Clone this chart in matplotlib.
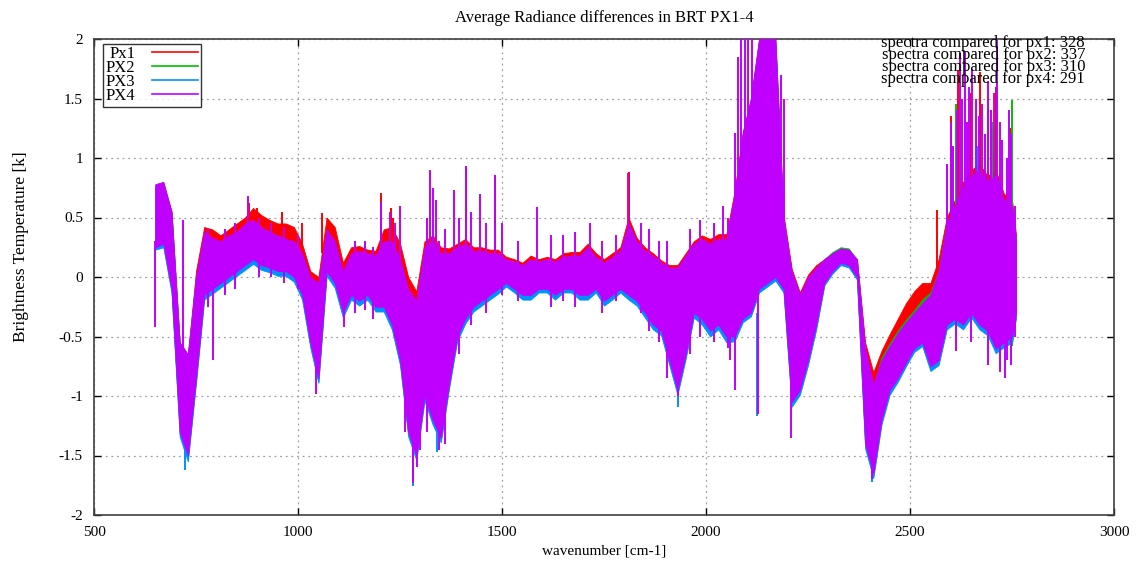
import matplotlib
matplotlib.use("Agg")
import matplotlib.pyplot as plt
from matplotlib.lines import Line2D
import numpy as np

plt.rcParams['font.family'] = ['Liberation Serif', 'DejaVu Serif']

# ---------------- data ----------------
wavenumber = list(range(650, 2751, 20)) + [2760]

px1_hi = [0.75,0.78,0.55,-0.55,-0.65,0.05,0.42,0.40,0.35,0.40,
          0.45,0.50,0.58,0.52,0.48,0.45,0.45,0.42,0.28,0.05,
          0.00,0.50,0.42,0.12,0.25,0.26,0.23,0.22,0.40,0.42,
          0.28,0.00,-0.12,0.30,0.35,0.25,0.24,0.28,0.32,0.25,
          0.25,0.23,0.23,0.17,0.15,0.12,0.18,0.15,0.17,0.15,
          0.20,0.21,0.21,0.28,0.20,0.15,0.20,0.25,0.50,0.33,
          0.25,0.20,0.14,0.10,0.10,0.20,0.30,0.35,0.32,0.36,
          0.36,0.72,1.22,1.50,2.00,2.00,2.00,0.52,0.07,-0.13,
          0.02,0.10,0.15,0.20,0.22,0.22,0.15,-0.55,-0.80,-0.62,
          -0.48,-0.35,-0.22,-0.12,-0.05,-0.05,0.15,0.50,0.65,0.80,
          0.90,0.95,0.85,0.90,0.70,0.65,0.35]
px1_lo = [0.25,0.30,-0.05,-1.25,-1.45,-0.80,-0.05,0.00,0.10,0.12,
          0.20,0.25,0.30,0.25,0.22,0.20,0.18,0.12,-0.05,-0.45,
          -0.75,0.15,0.05,-0.25,-0.10,-0.15,-0.10,-0.20,-0.20,-0.35,
          -0.62,-1.20,-1.40,-0.92,-1.12,-1.28,-0.85,-0.45,-0.30,-0.20,
          -0.16,-0.12,-0.08,-0.03,-0.08,-0.12,-0.12,-0.08,-0.08,-0.12,
          -0.08,-0.08,-0.12,-0.12,-0.08,-0.17,-0.12,-0.08,-0.12,-0.17,
          -0.27,-0.37,-0.42,-0.65,-0.90,-0.60,-0.27,-0.32,-0.42,-0.36,
          -0.46,-0.45,-0.32,-0.27,-0.07,-0.02,0.03,-0.07,-1.00,-0.92,
          -0.67,-0.37,-0.03,0.07,0.12,0.10,0.01,-1.35,-1.60,-1.12,
          -0.88,-0.78,-0.66,-0.55,-0.50,-0.68,-0.62,-0.35,-0.30,-0.35,
          -0.25,-0.35,-0.40,-0.52,-0.50,-0.45,-0.25]

px2_hi = [0.77,0.79,0.54,-0.56,-0.66,-0.02,0.36,0.31,0.28,0.33,
          0.36,0.43,0.46,0.40,0.36,0.33,0.30,0.28,0.18,-0.02,
          -0.07,0.38,0.28,0.03,0.18,0.20,0.18,0.16,0.28,0.28,
          0.13,-0.12,-0.22,0.23,0.28,0.18,0.18,0.23,0.26,0.20,
          0.20,0.18,0.18,0.14,0.12,0.09,0.14,0.12,0.14,0.12,
          0.16,0.17,0.17,0.24,0.16,0.11,0.16,0.21,0.44,0.29,
          0.21,0.17,0.11,0.07,0.07,0.17,0.27,0.31,0.27,0.31,
          0.31,0.68,1.18,1.48,1.98,1.98,1.98,0.48,0.04,-0.16,
          -0.01,0.07,0.15,0.21,0.25,0.24,0.14,-0.62,-0.92,-0.68,
          -0.56,-0.45,-0.36,-0.28,-0.19,-0.13,0.05,0.45,0.60,0.75,
          0.85,0.90,0.80,0.85,0.65,0.62,0.30]
px2_lo = [0.24,0.26,-0.12,-1.32,-1.53,-0.87,-0.17,-0.12,-0.07,-0.02,
          0.03,0.08,0.13,0.08,0.06,0.03,0.03,-0.02,-0.17,-0.57,
          -0.88,0.03,-0.07,-0.32,-0.17,-0.22,-0.17,-0.27,-0.27,-0.42,
          -0.72,-1.32,-1.52,-1.02,-1.22,-1.37,-0.92,-0.52,-0.37,-0.27,
          -0.22,-0.17,-0.12,-0.07,-0.12,-0.17,-0.17,-0.12,-0.12,-0.17,
          -0.12,-0.12,-0.17,-0.17,-0.12,-0.22,-0.17,-0.12,-0.17,-0.22,
          -0.32,-0.42,-0.47,-0.72,-0.97,-0.67,-0.32,-0.37,-0.47,-0.42,
          -0.52,-0.52,-0.37,-0.32,-0.12,-0.07,-0.02,-0.12,-1.07,-0.97,
          -0.72,-0.42,-0.06,0.04,0.11,0.09,-0.02,-1.42,-1.67,-1.22,
          -0.97,-0.87,-0.74,-0.62,-0.57,-0.77,-0.72,-0.42,-0.37,-0.42,
          -0.32,-0.42,-0.47,-0.62,-0.57,-0.56,-0.32]

px3_hi = [0.75,0.77,0.52,-0.58,-0.68,-0.04,0.34,0.29,0.26,0.31,
          0.34,0.40,0.43,0.38,0.34,0.31,0.28,0.26,0.16,-0.04,
          -0.09,0.36,0.26,0.01,0.16,0.18,0.16,0.14,0.26,0.26,
          0.11,-0.14,-0.24,0.21,0.26,0.16,0.16,0.21,0.24,0.18,
          0.18,0.16,0.16,0.12,0.10,0.07,0.12,0.10,0.12,0.10,
          0.14,0.15,0.15,0.22,0.14,0.09,0.14,0.19,0.42,0.27,
          0.19,0.15,0.09,0.05,0.05,0.15,0.25,0.29,0.25,0.29,
          0.29,0.66,1.16,1.46,1.96,1.96,1.96,0.46,0.02,-0.18,
          -0.03,0.05,0.13,0.20,0.23,0.22,0.12,-0.64,-0.94,-0.72,
          -0.60,-0.49,-0.40,-0.32,-0.24,-0.17,0.03,0.42,0.57,0.72,
          0.82,0.87,0.77,0.82,0.62,0.57,0.27]
px3_lo = [0.23,0.25,-0.13,-1.34,-1.55,-0.89,-0.19,-0.14,-0.09,-0.04,
          0.01,0.06,0.11,0.06,0.04,0.01,0.01,-0.04,-0.19,-0.59,
          -0.89,0.01,-0.09,-0.34,-0.19,-0.24,-0.19,-0.29,-0.29,-0.44,
          -0.74,-1.34,-1.54,-1.04,-1.24,-1.39,-0.94,-0.54,-0.39,-0.29,
          -0.24,-0.19,-0.14,-0.08,-0.13,-0.19,-0.19,-0.13,-0.13,-0.19,
          -0.13,-0.13,-0.19,-0.19,-0.13,-0.24,-0.19,-0.13,-0.19,-0.24,
          -0.34,-0.44,-0.49,-0.74,-0.99,-0.69,-0.34,-0.40,-0.50,-0.44,
          -0.55,-0.54,-0.38,-0.33,-0.13,-0.08,-0.03,-0.13,-1.09,-0.99,
          -0.74,-0.44,-0.07,0.03,0.10,0.08,-0.02,-1.44,-1.69,-1.24,
          -0.99,-0.88,-0.75,-0.63,-0.58,-0.79,-0.74,-0.44,-0.39,-0.44,
          -0.34,-0.44,-0.49,-0.64,-0.59,-0.55,-0.34]

px4_hi = [0.78,0.80,0.55,-0.55,-0.65,0.00,0.38,0.33,0.30,0.35,
          0.38,0.45,0.48,0.42,0.38,0.35,0.32,0.30,0.20,0.00,
          -0.05,0.40,0.30,0.05,0.20,0.22,0.20,0.18,0.30,0.30,
          0.15,-0.10,-0.20,0.25,0.30,0.20,0.20,0.25,0.28,0.22,
          0.22,0.20,0.20,0.15,0.13,0.10,0.15,0.13,0.15,0.13,
          0.17,0.18,0.18,0.25,0.17,0.12,0.17,0.22,0.45,0.30,
          0.22,0.18,0.12,0.08,0.08,0.18,0.28,0.32,0.28,0.32,
          0.32,0.70,1.20,1.50,2.00,2.00,2.00,0.50,0.05,-0.15,
          0.00,0.08,0.15,0.20,0.24,0.23,0.15,-0.60,-0.90,-0.70,
          -0.58,-0.47,-0.38,-0.30,-0.22,-0.15,0.05,0.45,0.60,0.75,
          0.85,0.90,0.80,0.85,0.65,0.60,0.30]
px4_lo = [0.25,0.28,-0.10,-1.30,-1.50,-0.85,-0.15,-0.10,-0.05,0.00,
          0.05,0.10,0.15,0.10,0.08,0.05,0.05,0.00,-0.15,-0.55,
          -0.85,0.05,-0.05,-0.30,-0.15,-0.20,-0.15,-0.25,-0.25,-0.40,
          -0.70,-1.30,-1.50,-1.00,-1.20,-1.35,-0.90,-0.50,-0.35,-0.25,
          -0.20,-0.15,-0.10,-0.05,-0.10,-0.15,-0.15,-0.10,-0.10,-0.15,
          -0.10,-0.10,-0.15,-0.15,-0.10,-0.20,-0.15,-0.10,-0.15,-0.20,
          -0.30,-0.40,-0.45,-0.70,-0.95,-0.65,-0.30,-0.35,-0.45,-0.40,
          -0.50,-0.50,-0.35,-0.30,-0.10,-0.05,0.00,-0.10,-1.05,-0.95,
          -0.70,-0.40,-0.05,0.05,0.12,0.10,0.00,-1.40,-1.65,-1.20,
          -0.95,-0.85,-0.72,-0.60,-0.55,-0.75,-0.70,-0.40,-0.35,-0.40,
          -0.30,-0.40,-0.45,-0.60,-0.55,-0.50,-0.30]

# isolated spikes: wavenumber, low end, high end
px1_spike_x  = [880, 900, 960, 1010, 1060, 1203, 1228, 1233, 1412, 1483, 1812, 2567, 2600, 2618, 2650, 2672, 2690, 2712, 2745]
px1_spike_lo = [0.30, 0.30, 0.30, 0.10, 0.20, 0.00, 0.00, 0.00, 0.00, 0.00, 0.00, -0.20, 0.00, 0.00, 0.00, 0.00, 0.00, 0.00, 0.00]
px1_spike_hi = [0.62, 0.58, 0.55, 0.45, 0.54, 0.71, 0.58, 0.50, 0.93, 0.86, 0.88, 0.56, 1.35, 1.74, 1.55, 1.72, 1.50, 1.60, 1.25]

px2_spike_x  = [2612, 2700, 2750]
px2_spike_lo = [0.00, 0.00, -0.58]
px2_spike_hi = [1.45, 1.30, 1.49]

px3_spike_x  = [724, 1282, 1340, 1932, 2124, 2408, 2665]
px3_spike_lo = [-1.62, -1.76, -1.47, -1.09, -1.17, -1.72, 0.00]
px3_spike_hi = [-1.20, -1.20, -1.00, -0.80, -0.30, -1.30, 1.10]

px4_spike_x  = [649, 718, 780, 791, 820, 845, 877, 905, 935, 965, 1000, 1045, 1113, 1140, 1165, 1185,
                1203, 1225, 1238, 1250, 1262, 1282, 1292, 1300, 1316, 1324, 1330, 1338, 1346, 1360, 1382, 1395,
                1412, 1425, 1446, 1460, 1483, 1500, 1540, 1585, 1620, 1650, 1680, 1715, 1745, 1780, 1810, 1840,
                1860, 1885, 1905, 1932, 1960, 1985, 2020, 2042, 2055, 2060, 2071, 2079, 2086, 2095, 2104, 2112,
                2127, 2184, 2190, 2208, 2408, 2590, 2600, 2605, 2612, 2615, 2623, 2628, 2635, 2640, 2645, 2650,
                2652, 2662, 2668, 2676, 2683, 2690, 2698, 2705, 2713, 2720, 2726, 2733, 2738, 2742, 2748, 2757]
px4_spike_lo = [-0.42, -0.80, -0.25, -0.70, -0.15, -0.10, 0.20, 0.00, 0.00, -0.05, -0.10, -0.98, -0.42, -0.30, -0.28, -0.35,
                0.00, 0.00, -0.50, -0.20, -1.30, -1.73, -1.60, -1.45, -1.30, 0.00, -0.50, 0.00, -1.45, -1.40, 0.00, -0.65,
                0.00, -0.40, 0.00, -0.30, 0.00, -0.15, -0.20, 0.00, -0.25, -0.20, -0.25, 0.00, -0.30, -0.20, 0.00, -0.30,
                -0.45, -0.55, -0.85, -1.00, -0.65, -0.50, -0.55, 0.00, -0.60, -0.70, -0.95, 0.00, 0.00, 0.00, 0.00, 0.00,
                -1.15, 0.00, -0.10, -1.35, -1.70, -0.30, -0.30, -0.20, -0.62, -0.30, 0.00, -0.20, 0.00, -0.20, 0.00, -0.55,
                -0.30, 0.00, -0.30, -0.30, -0.30, -0.74, -0.50, -0.50, 0.00, -0.80, -0.40, -0.85, -0.70, 0.00, -0.74, -0.50]
px4_spike_hi = [0.30, 0.48, 0.40, 0.20, 0.40, 0.45, 0.68, 0.50, 0.45, 0.42, 0.35, -0.30, 0.00, 0.30, 0.30, 0.25,
                0.63, 0.55, 0.45, 0.60, -0.30, -1.00, -0.80, -1.00, 0.50, 0.90, 0.75, 0.65, 0.30, 0.40, 0.73, 0.50,
                0.93, 0.55, 0.70, 0.45, 0.86, 0.45, 0.30, 0.59, 0.35, 0.35, 0.38, 0.45, 0.30, 0.35, 0.87, 0.45,
                0.40, 0.30, 0.30, -0.60, 0.40, 0.48, 0.45, 0.60, 0.50, 0.45, 1.21, 1.85, 2.00, 2.00, 2.00, 2.00,
                0.20, 1.70, 1.50, -0.60, -1.20, 0.95, 1.30, 1.10, 0.00, 1.40, 1.88, 1.50, 1.90, 1.30, 1.60, 0.00,
                1.75, 1.50, 1.35, 1.45, 1.20, 1.65, 1.40, 1.55, 2.05, 1.30, 1.15, 0.00, 1.00, 1.40, 1.20, 0.60]

series_names = ["Px1", "PX2", "PX3", "PX4"]
series_colors = ["#ff0000", "#00c000", "#0090ff", "#c000ff"]
counts_text = ["spectra compared for px1: 328", "spectra compared for px2: 337",
               "spectra compared for px3: 310", "spectra compared for px4: 291"]

# ---------------- figure ----------------
fig = plt.figure(figsize=(11.36, 5.63), dpi=100)
ax = fig.add_axes([94/1136, 1 - 515/563, (1114-94)/1136, (515-39)/563])

his = [px1_hi, px2_hi, px3_hi, px4_hi]
los = [px1_lo, px2_lo, px3_lo, px4_lo]
spikes = [(px1_spike_x, px1_spike_lo, px1_spike_hi), (px2_spike_x, px2_spike_lo, px2_spike_hi),
          (px3_spike_x, px3_spike_lo, px3_spike_hi), (px4_spike_x, px4_spike_lo, px4_spike_hi)]
wn = np.array(wavenumber, dtype=float)
for i, (hi, lo, col) in enumerate(zip(his, los, series_colors)):
    ax.fill_between(wn, np.array(lo), np.array(hi), color=col, linewidth=0.6, edgecolor=col, zorder=2 + i)
    sx, slo, shi = spikes[i]
    ax.vlines(sx, slo, shi, color=col, linewidth=1.4, zorder=2 + i)

ax.set_xlim(500, 3000)
ax.set_ylim(-2, 2)
ax.set_xticks([500, 1000, 1500, 2000, 2500, 3000])
ax.set_yticks([-2, -1.5, -1, -0.5, 0, 0.5, 1, 1.5, 2])
ax.set_yticklabels(["-2", "-1.5", "-1", "-0.5", "0", "0.5", "1", "1.5", "2"])
ax.tick_params(direction='in', top=True, right=True, length=5, width=1, labelsize=11, pad=8)
ax.grid(True, linestyle=(0, (1.5, 3)), color='#a0a0a0', linewidth=0.9)
ax.set_axisbelow(True)
for s in ax.spines.values():
    s.set_linewidth(1.2)
    s.set_color('#404040')

ax.set_title("Average Radiance differences in BRT PX1-4", fontsize=12, pad=12)
ax.set_xlabel("wavenumber [cm-1]", fontsize=11, labelpad=4)
ax.set_ylabel("Brightness Temperature [k]", fontsize=12.5)
ax.yaxis.set_label_coords((29 - 94) / 1020, (515 - 247) / 476)

handles = [Line2D([0], [0], color=c, linewidth=1.2) for c in series_colors]
leg = ax.legend(handles, series_names, loc='upper left', bbox_to_anchor=(0.0088, 0.99),
                markerfirst=False, fontsize=12, frameon=True, fancybox=False, borderaxespad=0,
                handlelength=2.8, handletextpad=1.0, labelspacing=-0.12, borderpad=0.15)
leg.get_frame().set_edgecolor('black')
leg.get_frame().set_linewidth(1.0)
leg.set_zorder(20)

fig.text(1085 / 1136, 1 - 35 / 563, "\n".join(counts_text), fontsize=12, ha='right', va='top',
         linespacing=0.66, zorder=25)

fig.savefig("out.png", dpi=100)
